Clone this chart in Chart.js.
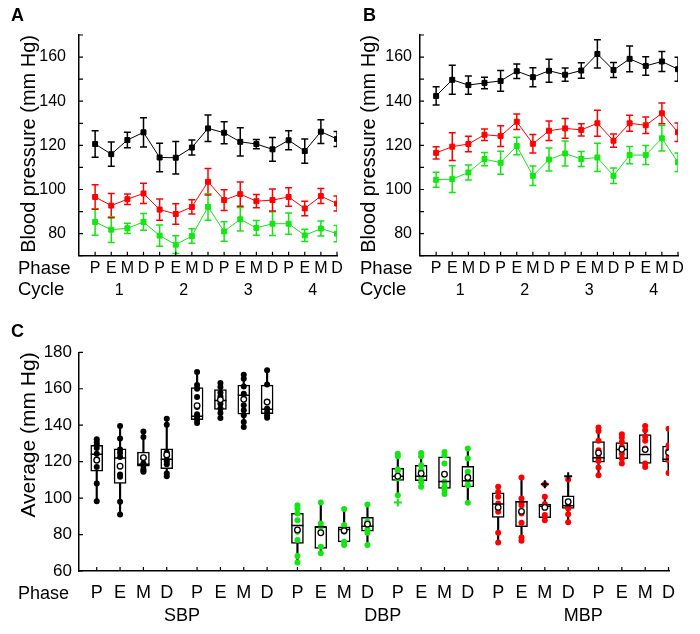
<!DOCTYPE html>
<html lang="en">
<head>
<meta charset="utf-8">
<script src="https://cdn.jsdelivr.net/npm/chart.js@4.4.0/dist/chart.umd.min.js"></script>
<style>
	body { margin:0; background:#fff; font-family:'Liberation Sans', Arial, sans-serif; }
	#wrap { position:relative; width:700px; height:634px; overflow:hidden; }
	canvas { position:absolute; }
	.txt { position:absolute; line-height:1; white-space:nowrap; color:#000; }
</style>
</head>
<body>
<div id="wrap">
	<canvas id="chartA" width="350" height="310" style="left:0;top:0;"></canvas>
	<canvas id="chartB" width="350" height="310" style="left:350px;top:0;"></canvas>
	<canvas id="chartC" width="700" height="304" style="left:0;top:330px;"></canvas>

	<div class="txt" style="left:11px;top:5.5px;font-size:18px;font-weight:bold;">A</div>
	<div class="txt" style="left:363px;top:5.5px;font-size:18px;font-weight:bold;">B</div>
	<div class="txt" style="left:11px;top:321.5px;font-size:18px;font-weight:bold;">C</div>

	<div class="txt" style="left:18px;top:259.3px;font-size:18.5px;">Phase</div>
	<div class="txt" style="left:18px;top:280px;font-size:18.5px;">Cycle</div>
	<div class="txt" style="left:360px;top:259.3px;font-size:18.5px;">Phase</div>
	<div class="txt" style="left:360px;top:280px;font-size:18.5px;">Cycle</div>
	<div class="txt" style="left:18px;top:583.8px;font-size:18px;">Phase</div>
</div>
<script>
// ---- data ----
var phases = ['P', 'E', 'M', 'D'];
var cycles = ['1', '2', '3', '4'];
var groups = ['SBP', 'DBP', 'MBP'];

// panel A (mean, sd per phase over 4 cycles)
var aSbp   = [120.6, 116.0, 122.4, 125.9, 114.5, 114.4, 119.0, 127.7, 125.7, 121.6, 120.6, 118.2, 122.3, 117.4, 126.2, 122.9];
var aSbpSd = [6.0, 5.5, 3.5, 6.6, 6.5, 7.4, 3.4, 6.0, 5.0, 6.4, 2.1, 5.4, 4.3, 5.5, 5.4, 3.4];
var aMbp   = [96.6, 92.7, 95.6, 98.2, 90.9, 88.9, 92.1, 103.5, 95.2, 97.9, 94.7, 95.2, 96.6, 91.4, 97.0, 93.6];
var aMbpSd = [5.6, 5.5, 2.4, 4.6, 4.8, 4.6, 3.2, 6.0, 4.7, 5.5, 3.0, 5.0, 4.2, 3.3, 3.4, 3.4];
var aDbp   = [85.3, 81.8, 82.4, 85.3, 79.1, 75.0, 78.9, 92.1, 81.0, 86.5, 82.6, 84.5, 84.5, 79.2, 82.3, 80.0];
var aDbpSd = [6.0, 5.8, 2.3, 3.8, 4.8, 4.0, 3.3, 6.0, 4.4, 5.3, 3.3, 5.4, 4.8, 2.8, 3.4, 3.7];

// panel B
var bSbp   = [142.4, 149.7, 147.3, 148.3, 149.2, 153.6, 150.9, 153.8, 152.0, 153.9, 161.4, 154.1, 159.2, 156.0, 158.0, 154.5];
var bSbpSd = [4.1, 6.6, 4.1, 2.6, 4.7, 3.3, 4.3, 5.2, 3.0, 3.5, 6.4, 3.4, 5.8, 4.2, 4.5, 5.4];
var bMbp   = [116.6, 119.4, 120.6, 124.8, 124.2, 130.7, 120.7, 126.6, 127.7, 127.0, 130.0, 122.1, 130.0, 129.1, 134.5, 125.9];
var bMbpSd = [2.8, 6.3, 3.5, 2.6, 4.7, 3.5, 4.2, 4.4, 4.5, 2.8, 5.9, 3.0, 3.6, 3.7, 4.7, 4.2];
var bDbp   = [104.4, 104.7, 107.7, 113.8, 112.1, 119.7, 106.2, 113.6, 116.3, 113.8, 114.5, 106.2, 115.6, 115.6, 123.2, 112.3];
var bDbpSd = [3.4, 6.1, 3.4, 3.0, 5.2, 4.0, 4.4, 5.2, 5.7, 3.4, 6.4, 3.5, 3.9, 4.3, 5.8, 4.2];

// panel C boxes: SBP(A), SBP(B), DBP(A), DBP(B), MBP(A), MBP(B), each P E M D
var cMin  = [98.3, 91.0, 114.4, 112.0, 141.2, 143.6, 139.0, 144.1, 64.6, 69.7, 74.2, 74.2, 101.6, 106.2, 102.2, 97.4, 75.7, 76.6, 87.9, 86.7, 112.6, 119.0, 117.1, 113.8];
var cQ1   = [114.8, 108.0, 117.5, 116.2, 143.0, 148.7, 146.0, 146.3, 75.2, 72.4, 76.0, 81.8, 109.7, 109.5, 105.3, 106.2, 89.4, 84.3, 89.2, 94.3, 119.7, 121.7, 119.0, 119.9];
var cMed  = [124.1, 122.0, 118.6, 121.3, 144.9, 153.6, 156.4, 148.7, 85.0, 84.3, 82.8, 84.6, 112.0, 112.0, 109.1, 109.5, 96.7, 98.0, 95.5, 95.8, 122.2, 126.6, 123.9, 121.3];
var cQ3   = [129.0, 127.0, 125.2, 127.0, 160.6, 159.5, 162.0, 162.0, 91.6, 84.3, 84.3, 89.4, 116.4, 118.0, 122.6, 117.5, 102.9, 98.3, 96.7, 101.3, 131.0, 130.5, 134.8, 128.5];
var cMax  = [132.3, 140.0, 136.8, 143.6, 169.2, 163.1, 168.2, 170.1, 96.1, 97.6, 94.0, 96.5, 124.4, 124.8, 125.3, 127.2, 106.2, 111.3, 100.7, 110.2, 138.7, 135.0, 139.6, 138.1];
var cMean = [120.8, 117.5, 122.2, 123.7, 150.7, 154.0, 154.2, 152.7, 82.5, 81.0, 82.1, 85.7, 112.0, 113.5, 113.1, 111.3, 94.9, 92.7, 94.9, 98.0, 124.8, 126.8, 126.6, 125.0];
var cDots = [
	[132.3, 130.8, 129.4, 127.5, 124.3, 121.3, 117.1, 108.0, 98.3],
	[139.5, 132.7, 126.6, 124.8, 122.5, 112.9, 111.7, 98.0, 91.0],
	[136.5, 133.5, 122.0, 119.0, 118.0, 116.0, 115.0, 114.4],
	[143.6, 140.3, 125.0, 123.5, 121.0, 120.0, 118.6, 113.5, 112.0],
	[169.2, 162.0, 160.0, 155.5, 150.0, 146.0, 144.5, 143.0, 141.2],
	[163.1, 161.0, 157.8, 155.8, 151.8, 149.1, 146.7, 144.0],
	[167.7, 165.5, 161.3, 157.3, 150.9, 148.2, 145.4, 141.8, 139.0],
	[170.1, 162.4, 149.1, 147.3, 145.4, 144.1],
	[96.1, 94.3, 91.6, 87.9, 81.5, 77.0, 68.2, 64.6],
	[97.6, 86.1, 84.3, 73.3, 69.7],
	[94.0, 85.2, 81.5, 76.0, 74.2],
	[96.5, 87.0, 85.2, 82.8, 81.0, 74.2],
	[124.4, 123.0, 115.7, 115.0, 110.7, 101.6],
	[124.8, 123.0, 118.0, 115.3, 111.7, 108.9, 106.2],
	[125.3, 123.5, 119.0, 109.0, 106.2, 104.4, 102.2],
	[127.2, 121.7, 114.4, 111.7, 109.8, 107.1, 97.4],
	[106.2, 103.4, 100.7, 97.1, 92.5, 81.0, 75.7],
	[111.3, 99.8, 97.6, 96.1, 91.6, 86.5, 78.4, 76.6],
	[107.6, 100.7, 96.7, 90.7, 87.9],
	[110.2, 95.8, 94.3, 91.2, 86.7],
	[138.7, 136.8, 131.4, 126.3, 122.2, 120.4, 116.8, 112.6],
	[135.0, 133.2, 130.8, 128.1, 124.4, 121.7, 119.0],
	[139.6, 137.2, 133.6, 131.4, 127.2, 119.0, 117.1],
	[138.1, 129.0, 126.3, 122.6, 120.8, 113.8]
];
var outBox = [12, 18, 19];
var outVal = [97.6, 107.6, 112.0];

// ---- drawing ----
var BLACK = '#000000', RED = '#ff0000', GREEN = '#14e614';
var FONT = "'Liberation Sans', Arial, sans-serif";
var groupColor = [BLACK, BLACK, GREEN, GREEN, RED, RED];

// ticks that point into the plot, placed with the scales
var inwardTicks = {
	id: 'inwardTicks',
	afterDraw: function(chart) {
		var ctx = chart.ctx, a = chart.chartArea, sx = chart.scales.x, sy = chart.scales.y;
		ctx.save();
		ctx.strokeStyle = '#000';
		ctx.lineWidth = 1.2;
		ctx.beginPath();
		sx.ticks.forEach(function(t) {
			if (t.mark === false) return;
			var px = sx.getPixelForValue(t.value);
			ctx.moveTo(px, a.bottom);
			ctx.lineTo(px, a.bottom - 4);
		});
		sy.ticks.forEach(function(t) {
			var py = sy.getPixelForValue(t.value);
			ctx.moveTo(a.left, py);
			ctx.lineTo(a.left + 4, py);
		});
		ctx.stroke();
		ctx.restore();
	}
};

function errSeries(means, sds, color, layer)
{
	var bars = [], caps = [], pts = [];
	for (var i = 0; i < means.length; i++)
	{
		bars.push({x: i, y: [means[i] - sds[i], means[i] + sds[i]]});
		caps.push({x: i, y: means[i] + sds[i]});
		caps.push({x: i, y: means[i] - sds[i]});
		pts.push({x: i, y: means[i]});
	}
	return [
		{type: 'bar', data: bars, backgroundColor: color, borderWidth: 0, grouped: false, maxBarThickness: 1.5, order: 30 + layer},
		{type: 'scatter', data: caps, pointStyle: 'line', pointRadius: 3.5, pointBorderColor: color, pointBorderWidth: 1.5, order: 20 + layer},
		{type: 'line', data: pts, borderColor: color, borderWidth: 1, pointStyle: 'rect', pointRadius: 3.5,
		 pointBackgroundColor: color, pointBorderColor: color, pointBorderWidth: 1, order: 10 + layer}
	];
}

function timeCourse(id, sbp, sbpSd, mbp, mbpSd, dbp, dbpSd, yWidth, padRight, tickPad, titlePad)
{
	var xt = [];
	for (var i = 0; i < 16; i++) xt.push({value: i, lab: [phases[i % 4]]});
	for (var k = 0; k < cycles.length; k++) xt.push({value: k * 4 + 1.5, lab: ['', cycles[k]], mark: false});
	xt.sort(function(p, q) { return p.value - q.value; });

	return new Chart(document.getElementById(id), {
		type: 'scatter',
		data: { datasets: [].concat(errSeries(sbp, sbpSd, BLACK, 0), errSeries(mbp, mbpSd, RED, 1), errSeries(dbp, dbpSd, GREEN, 2)) },
		options: {
			responsive: false, animation: false, devicePixelRatio: 1,
			layout: { padding: { top: 35, right: padRight, left: 0, bottom: 0 } },
			plugins: { legend: { display: false }, tooltip: { enabled: false } },
			scales: {
				x: {
					type: 'linear', min: -1, max: 15, offset: false,
					grid: { display: false, drawTicks: false, offset: false },
					border: { display: true, color: '#000', width: 1.5 },
					afterBuildTicks: function(s) { s.ticks = xt.map(function(t) { return Object.assign({}, t); }); },
					afterFit: function(s) { s.height = 54.3; },
					ticks: {
						autoSkip: false, maxRotation: 0, minRotation: 0, padding: 1.6, color: '#000',
						font: { family: FONT, size: 16, lineHeight: '22px' },
						callback: function(v, i, ticks) { return ticks[i].lab; }
					}
				},
				y: {
					type: 'linear', min: 70, max: 170,
					grid: { display: false, drawTicks: false },
					border: { display: true, color: '#000', width: 1.5 },
					afterFit: function(s) { s.width = yWidth; },
					title: { display: true, text: 'Blood pressure (mm Hg)', color: '#000', align: 'end',
						font: { family: FONT, size: 20 }, padding: { top: titlePad, bottom: 0 } },
					ticks: {
						stepSize: 10, autoSkip: false, padding: tickPad, color: '#000', font: { family: FONT, size: 16 },
						callback: function(v) { return (v % 20 === 0 && v >= 80 && v <= 160) ? String(v) : ''; }
					}
				}
			}
		},
		plugins: [inwardTicks]
	});
}

timeCourse('chartA', aSbp, aSbpSd, aMbp, aMbpSd, aDbp, aDbpSd, 79, 13, 13, 17);
timeCourse('chartB', bSbp, bSbpSd, bMbp, bMbpSd, bDbp, bDbpSd, 70, 22, 8, 7.7);

// panel C
function xPos(i) { return Math.floor(i / 4) * 4.3 + i % 4; }

function montarBoxplot()
{
	var whisk = [], boxes = [], meds = [], means = [], dots = [], dotCol = [], outs = [], outCol = [];
	for (var i = 0; i < cMin.length; i++)
	{
		var x = xPos(i);
		whisk.push({x: x, y: [cMin[i], cMax[i]]});
		boxes.push({x: x, y: [cQ1[i], cQ3[i]]});
		meds.push({x: x, y: cMed[i]});
		means.push({x: x, y: cMean[i]});
		cDots[i].forEach(function(v) { dots.push({x: x, y: v}); dotCol.push(groupColor[Math.floor(i / 4)]); });
	}
	for (var j = 0; j < outBox.length; j++)
	{
		outs.push({x: xPos(outBox[j]), y: outVal[j]});
		outCol.push(outBox[j] < 16 ? GREEN : BLACK);
	}

	var xt = [];
	for (var n = 0; n < 24; n++) xt.push({value: xPos(n), lab: [phases[n % 4]]});
	for (var g = 0; g < groups.length; g++)
	{
		var mid = (xPos(g * 8 + 3) + xPos(g * 8 + 4)) / 2;
		xt.push({value: mid, lab: ['', groups[g]], mark: false});
	}
	xt.sort(function(p, q) { return p.value - q.value; });

	new Chart(document.getElementById('chartC'), {
		type: 'scatter',
		data: {
			datasets: [
				{type: 'bar', data: whisk, backgroundColor: BLACK, borderWidth: 0, grouped: false, maxBarThickness: 1.5,
				 categoryPercentage: 1, barPercentage: 1, order: 50},
				{type: 'bar', data: boxes, backgroundColor: '#ffffff', borderColor: BLACK, borderWidth: 1.5, borderSkipped: false,
				 grouped: false, maxBarThickness: 12, categoryPercentage: 1, barPercentage: 1, order: 40},
				{type: 'scatter', data: dots, pointRadius: 3, pointBorderWidth: 0, pointBackgroundColor: dotCol, order: 30},
				{type: 'scatter', data: outs, pointStyle: 'cross', pointRadius: 4, pointBorderWidth: 2, pointBorderColor: outCol, order: 25},
				{type: 'scatter', data: meds, pointStyle: 'line', pointRadius: 6, pointBorderWidth: 1.5, pointBorderColor: BLACK, order: 20},
				{type: 'scatter', data: means, pointRadius: 2.8, pointBackgroundColor: '#ffffff', pointBorderColor: BLACK, pointBorderWidth: 1.3, order: 10}
			]
		},
		options: {
			responsive: false, animation: false, devicePixelRatio: 1,
			layout: { padding: { top: 22.3, right: 31, left: 0, bottom: 0 } },
			plugins: { legend: { display: false }, tooltip: { enabled: false } },
			scales: {
				x: {
					type: 'linear', min: -0.76, max: 24.52, offset: false,
					grid: { display: false, drawTicks: false, offset: false },
					border: { display: true, color: '#000', width: 1.5 },
					afterBuildTicks: function(s) { s.ticks = xt.map(function(t) { return Object.assign({}, t); }); },
					afterFit: function(s) { s.height = 63; },
					ticks: {
						autoSkip: false, maxRotation: 0, minRotation: 0, padding: 10.5, color: '#000',
						font: { family: FONT, size: 18, lineHeight: '23px' },
						callback: function(v, i, ticks) { return ticks[i].lab; }
					}
				},
				y: {
					type: 'linear', min: 60, max: 180,
					grid: { display: false, drawTicks: false },
					border: { display: true, color: '#000', width: 1.5 },
					afterFit: function(s) { s.width = 79; },
					title: { display: true, text: 'Average (mm Hg)', color: '#000', align: 'end',
						font: { family: FONT, size: 21 }, padding: { top: 16.7, bottom: 0 } },
					ticks: { stepSize: 20, autoSkip: false, padding: 7, color: '#000', font: { family: FONT, size: 17 } }
				}
			}
		},
		plugins: [inwardTicks]
	});
}

montarBoxplot();
</script>
</body>
</html>
